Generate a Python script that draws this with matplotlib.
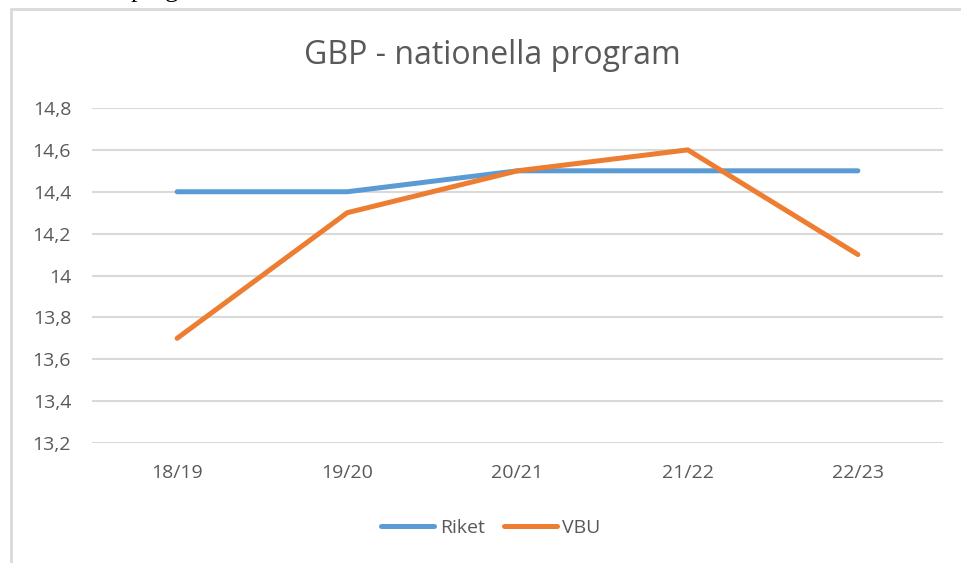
import matplotlib
matplotlib.use("Agg")
import matplotlib.pyplot as plt
from matplotlib.patches import Rectangle

# data
years = ["18/19", "19/20", "20/21", "21/22", "22/23"]
riket = [14.4, 14.4, 14.5, 14.5, 14.5]
vbu = [13.7, 14.3, 14.5, 14.6, 14.1]
yticks_vals = [13.2, 13.4, 13.6, 13.8, 14.0, 14.2, 14.4, 14.6, 14.8]

plt.rcParams['font.family'] = ['Open Sans', 'DejaVu Sans']
grey = '#595959'

fig = plt.figure(figsize=(9.62, 5.63), dpi=100)
W, H = 962.0, 563.0

# chart frame (clipped at right and bottom)
fig.patches.append(Rectangle((11 / W, -0.1), 1.2, 1 - 9 / H + 0.1, transform=fig.transFigure,
                             fill=False, edgecolor='#D9D9D9', linewidth=2))

# piece of the document text above the chart, mostly cut off
fig.text(131 / W, 1 + 3 / H, "program", family='Liberation Serif', fontsize=19,
         va='baseline', ha='left', color='black')

ax = fig.add_axes([92 / W, 1 - 443 / H, (943 - 92) / W, (443 - 108) / H])
x = range(len(years))
ax.plot(x, riket, color='#5B9BD5', linewidth=3.6, solid_capstyle='round', label='Riket', zorder=3)
ax.plot(x, vbu, color='#ED7D31', linewidth=3.6, solid_capstyle='round', label='VBU', zorder=3)

ax.set_xlim(-0.5, len(years) - 0.5)
ax.set_ylim(13.2, 14.8)
ax.set_yticks(yticks_vals)
ax.set_yticklabels([f"{v:g}".replace('.', ',') for v in yticks_vals])
ax.set_xticks(list(x))
ax.set_xticklabels(years)
ax.yaxis.grid(True, color='#D9D9D9', linewidth=1.5)
ax.set_axisbelow(True)
for s in ax.spines.values():
    s.set_visible(False)
ax.tick_params(length=0, colors=grey, labelsize=14)
ax.tick_params(axis='y', pad=15)
ax.tick_params(axis='x', pad=15)

fig.text(492 / W, 1 - 55 / H, "GBP - nationella program", ha='center', va='center',
         fontsize=23, color=grey)

leg = ax.legend(loc='center', bbox_to_anchor=(491 / W, 1 - 528 / H), bbox_transform=fig.transFigure,
                ncol=2, frameon=False, fontsize=14, handlelength=2.7, handletextpad=0.3,
                columnspacing=1.0)
for t in leg.get_texts():
    t.set_color(grey)

fig.savefig("out.png", dpi=100)
